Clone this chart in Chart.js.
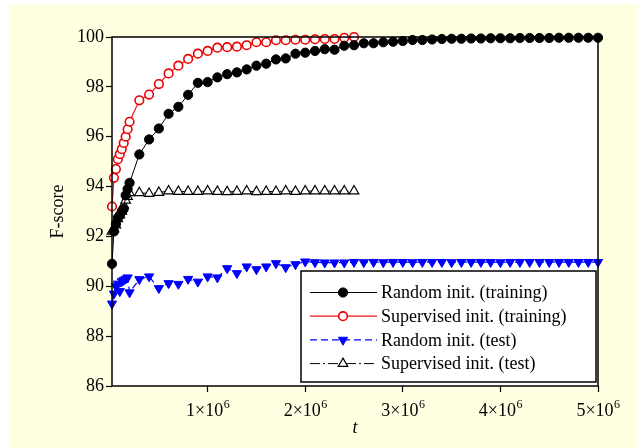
<!DOCTYPE html>
<html>
<head>
<meta charset="utf-8">
<script src="https://cdn.jsdelivr.net/npm/chart.js@4.4.1/dist/chart.umd.min.js"></script>
<style>
  html, body { margin: 0; padding: 0; background: white; }
  #wrap { width: 644px; height: 448px; }
</style>
</head>
<body>
<div id="wrap"><canvas id="fscoreChart" width="644" height="448"></canvas></div>
<script>
// iterations t (first 10 points dense, then every 1e5)
const tLong = [20000, 40000, 60000, 80000, 100000, 120000, 140000, 160000, 180000, 200000,
  300000, 400000, 500000, 600000, 700000, 800000, 900000, 1000000, 1100000, 1200000,
  1300000, 1400000, 1500000, 1600000, 1700000, 1800000, 1900000, 2000000, 2100000, 2200000,
  2300000, 2400000, 2500000, 2600000, 2700000, 2800000, 2900000, 3000000, 3100000, 3200000,
  3300000, 3400000, 3500000, 3600000, 3700000, 3800000, 3900000, 4000000, 4100000, 4200000,
  4300000, 4400000, 4500000, 4600000, 4700000, 4800000, 4900000, 5000000]
const tShort = tLong.slice(0, 33)

const randomTrain = [90.9, 92.2, 92.5, 92.75, 92.85, 93.0, 93.1, 93.65, 93.9, 94.15,
  95.29, 95.89, 96.33, 96.92, 97.2, 97.68, 98.16, 98.19, 98.38, 98.51,
  98.58, 98.70, 98.85, 98.93, 99.10, 99.14, 99.33, 99.37, 99.44, 99.51,
  99.49, 99.65, 99.67, 99.75, 99.75, 99.79, 99.81, 99.84, 99.88, 99.88,
  99.9, 99.92, 99.93, 99.93, 99.94, 99.94, 99.95, 99.95, 99.95, 99.96,
  99.96, 99.96, 99.96, 99.97, 99.97, 99.97, 99.97, 99.97]
const supervisedTrain = [93.2, 94.35, 94.7, 95.1, 95.3, 95.5, 95.75, 96.0, 96.3, 96.6,
  97.46, 97.69, 98.11, 98.54, 98.85, 99.12, 99.33, 99.44, 99.57, 99.59,
  99.61, 99.67, 99.79, 99.79, 99.87, 99.87, 99.89, 99.89, 99.91, 99.92,
  99.92, 99.97, 100.0]
const randomTest = [89.3, 89.7, 90.0, 90.1, 89.8, 90.2, 90.25, 90.3, 90.35, 89.75,
  90.28, 90.39, 89.92, 90.12, 90.09, 90.29, 90.18, 90.39, 90.35, 90.72,
  90.52, 90.79, 90.68, 90.79, 90.92, 90.76, 90.88, 90.99, 90.96, 90.95,
  90.95, 90.95, 90.97, 90.96, 90.97, 90.96, 90.97, 90.97, 90.96, 90.97,
  90.97, 90.97, 90.96, 90.97, 90.97, 90.97, 90.97, 90.96, 90.97, 90.97,
  90.97, 90.97, 90.97, 90.97, 90.97, 90.97, 90.97, 90.97]
const supervisedTest = [92.2, 92.3, 92.45, 92.7, 92.85, 93.0, 93.25, 93.45, 93.6, 93.75,
  93.75, 93.72, 93.76, 93.82, 93.8, 93.8, 93.8, 93.82, 93.8, 93.79,
  93.8, 93.82, 93.79, 93.8, 93.8, 93.82, 93.8, 93.82, 93.82, 93.82,
  93.82, 93.82, 93.82]

const xTicks = [1000000, 2000000, 3000000, 4000000, 5000000]
const xTickBase = ['1×10', '2×10', '3×10', '4×10', '5×10']
const xTickExp = '6'
const yTicks = [86, 88, 90, 92, 94, 96, 98, 100]

const serif = '"Liberation Serif", "Times New Roman", serif'

function pairs(xs, ys) {
    return ys.map((y, i) => ({ x: xs[i], y: y }))
}

// yellow page, white plot area, black frame, x labels with real superscript
const background = {
    id: 'background',
    beforeDraw(chart) {
        const ctx = chart.ctx
        const a = chart.chartArea
        ctx.save()
        ctx.fillStyle = 'white'
        ctx.fillRect(0, 0, chart.width, chart.height)
        ctx.fillStyle = 'rgb(255,255,226)'
        ctx.fillRect(9, 4, 628, 444)
        ctx.fillStyle = 'white'
        ctx.fillRect(a.left, a.top, a.right - a.left, a.bottom - a.top)
        ctx.restore()
    },
    afterDatasetsDraw(chart) {
        const ctx = chart.ctx
        const a = chart.chartArea
        ctx.save()
        ctx.strokeStyle = 'black'
        ctx.lineWidth = 1.5
        ctx.strokeRect(a.left, a.top, a.right - a.left, a.bottom - a.top)

        const xs = chart.scales.x
        ctx.fillStyle = 'black'
        ctx.textBaseline = 'alphabetic'
        ctx.textAlign = 'left'
        xTicks.forEach((v, i) => {
            const px = xs.getPixelForValue(v)
            ctx.font = '18px ' + serif
            const w1 = ctx.measureText(xTickBase[i]).width
            ctx.font = '12px ' + serif
            const w2 = ctx.measureText(xTickExp).width
            const left = px - (w1 + w2) / 2
            ctx.font = '18px ' + serif
            ctx.fillText(xTickBase[i], left, 416)
            ctx.font = '12px ' + serif
            ctx.fillText(xTickExp, left + w1 + 0.5, 408)
        })
        ctx.restore()
    }
}

// boxed legend with line + marker samples
const legendBox = {
    id: 'legendBox',
    afterDraw(chart) {
        const ctx = chart.ctx
        ctx.save()
        ctx.fillStyle = 'white'
        ctx.fillRect(301, 271, 295, 111)
        ctx.strokeStyle = 'black'
        ctx.lineWidth = 1.5
        ctx.strokeRect(301, 271, 295, 111)
        chart.data.datasets.forEach((ds, i) => {
            const y = 292.5 + i * 23.7
            ctx.strokeStyle = ds.borderColor
            ctx.lineWidth = ds.borderWidth
            ctx.setLineDash(ds.borderDash || [])
            ctx.beginPath()
            ctx.moveTo(310, y)
            ctx.lineTo(377, y)
            ctx.stroke()
            ctx.setLineDash([])
            ctx.fillStyle = ds.pointBackgroundColor
            ctx.strokeStyle = ds.pointBorderColor
            ctx.lineWidth = ds.pointBorderWidth
            Chart.helpers.drawPoint(ctx, {
                pointStyle: ds.pointStyle,
                rotation: ds.pointRotation || 0,
                radius: ds.pointRadius,
                borderWidth: ds.pointBorderWidth
            }, 343, y)
            ctx.fillStyle = 'black'
            ctx.font = '18px ' + serif
            ctx.textBaseline = 'middle'
            ctx.fillText(ds.label, 381, y + 1)
        })
        ctx.restore()
    }
}

window.onload = () => {
    var ctx = document.getElementById('fscoreChart').getContext('2d')
    new Chart(ctx, {
        type: 'line',
        data: {
            datasets: [
                {
                    label: 'Random init. (training)',
                    data: pairs(tLong, randomTrain),
                    borderColor: 'black', borderWidth: 1,
                    pointStyle: 'circle', pointRadius: 4.6,
                    pointBackgroundColor: 'black', pointBorderColor: 'black', pointBorderWidth: 1,
                    clip: false
                },
                {
                    label: 'Supervised init. (training)',
                    data: pairs(tShort, supervisedTrain),
                    borderColor: 'rgb(240,20,20)', borderWidth: 1.2,
                    pointStyle: 'circle', pointRadius: 4.3,
                    pointBackgroundColor: 'white', pointBorderColor: 'rgb(235,0,0)', pointBorderWidth: 1.6,
                    clip: false
                },
                {
                    label: 'Random init. (test)',
                    data: pairs(tLong, randomTest),
                    borderColor: 'rgb(0,0,255)', borderWidth: 1.2, borderDash: [7, 4],
                    pointStyle: 'triangle', pointRotation: 180, pointRadius: 5.3,
                    pointBackgroundColor: 'rgb(0,0,255)', pointBorderColor: 'rgb(0,0,255)', pointBorderWidth: 1,
                    clip: false
                },
                {
                    label: 'Supervised init. (test)',
                    data: pairs(tShort, supervisedTest),
                    borderColor: 'black', borderWidth: 1, borderDash: [10, 3, 2, 3],
                    pointStyle: 'triangle', pointRadius: 5.5,
                    pointBackgroundColor: 'white', pointBorderColor: 'black', pointBorderWidth: 1.2,
                    clip: false
                }
            ]
        },
        options: {
            responsive: false,
            animation: false,
            layout: { padding: { top: 37, right: 46, left: 0, bottom: 0 } },
            plugins: { legend: { display: false }, tooltip: { enabled: false } },
            scales: {
                x: {
                    type: 'linear', min: 20000, max: 5000000,
                    afterBuildTicks: s => { s.ticks = xTicks.map(v => ({ value: v })) },
                    afterFit: s => { s.height = 62 },
                    ticks: {
                        // drawn by the plugin so the exponent can be a real superscript
                        callback: v => xTickBase[xTicks.indexOf(v)] + xTickExp,
                        font: { family: serif, size: 18 }, color: 'rgba(0,0,0,0)', padding: 3, maxRotation: 0
                    },
                    grid: { drawOnChartArea: false, tickLength: 6, tickColor: 'black', tickWidth: 1.2 },
                    border: { display: false },
                    title: { display: true, text: 't', color: 'black', font: { family: serif, size: 18, style: 'italic' }, padding: { top: 0, bottom: 9 } }
                },
                y: {
                    min: 86, max: 100,
                    afterBuildTicks: s => { s.ticks = yTicks.map(v => ({ value: v })) },
                    afterFit: s => { s.width = 112 },
                    ticks: { font: { family: serif, size: 18 }, color: 'black', padding: 2 },
                    grid: { drawOnChartArea: false, tickLength: 6, tickColor: 'black', tickWidth: 1.2 },
                    border: { display: false },
                    title: { display: true, text: 'F-score', color: 'black', font: { family: serif, size: 18 }, padding: { top: 47, bottom: 0 } }
                }
            }
        },
        plugins: [background, legendBox]
    })
}
</script>
</body>
</html>
